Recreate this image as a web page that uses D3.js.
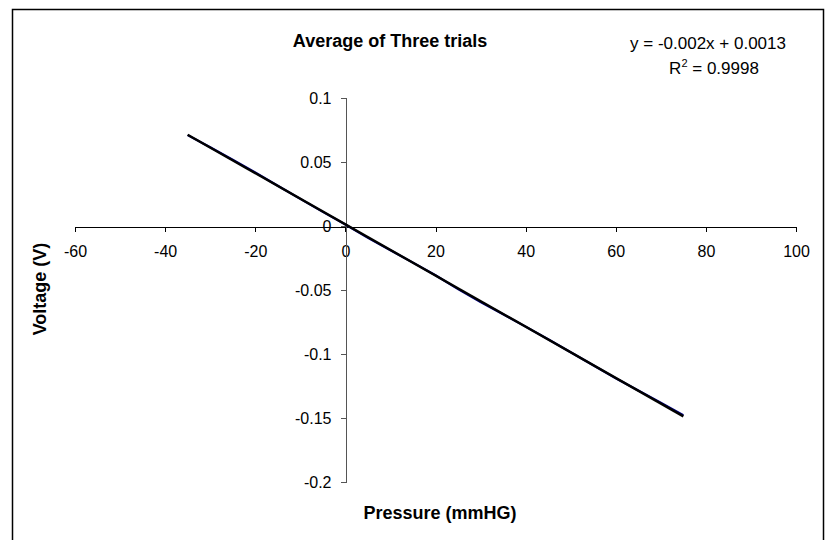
<!DOCTYPE html>
<html><head><meta charset="utf-8">
<script src="https://cdn.jsdelivr.net/npm/d3@7"></script>
<style>body{margin:0;background:#fff}svg{display:block}text{font-family:"Liberation Sans",Arial,sans-serif;fill:#000}</style>
</head><body>
<script>
const pressure = [-35,-30,-25,-20,-15,-10,-5,0,5,10,15,20,25,30,35,40,45,50,55,60,65,70,75];
const voltage = [0.0710,0.0615,0.0518,0.0418,0.0315,0.0212,0.0110,0.0012,-0.0093,-0.0190,-0.0286,-0.0385,-0.0493,-0.0594,-0.0690,-0.0786,-0.0885,-0.0986,-0.1088,-0.1190,-0.1285,-0.1380,-0.1478];
const trendSlope = -0.002, trendIntercept = 0.0013;
const trendRange = [-35, 75];
const xTicks = [-60,-40,-20,0,20,40,60,80,100];
const yTicks = [0.1,0.05,0,-0.05,-0.1,-0.15,-0.2];
const title = "Average of Three trials";
const eqText = "y = -0.002x + 0.0013";
const r2Value = "0.9998";

const W = 828, H = 540;
const svg = d3.select("body").append("svg").attr("width", W).attr("height", H);
svg.append("rect").attr("x", 12.5).attr("y", 9.5).attr("width", 811).attr("height", 700)
  .attr("fill", "#fff").attr("stroke", "#000").attr("stroke-width", 1.5);

const x = d3.scaleLinear().domain([-60, 100]).range([75, 796]);
const y = d3.scaleLinear().domain([-0.2, 0.1]).range([482, 98]);

const xAxis = d3.axisBottom(x).tickValues(xTicks).tickSize(5).tickFormat(d => d);
const gx = svg.append("g").attr("transform", `translate(0,${Math.round(y(0))+0.5})`).call(xAxis);
gx.select(".domain").attr("stroke", "#000").attr("shape-rendering", "crispEdges");
gx.selectAll(".tick line").attr("stroke", "#000").attr("shape-rendering", "crispEdges");
gx.selectAll(".tick text").attr("font-size", 16).attr("y", 15).attr("dy", "0.95em")
  .attr("font-family", "Liberation Sans, Arial, sans-serif");

const yAxis = d3.axisLeft(y).tickValues(yTicks).tickSize(5).tickFormat(d => d === 0 ? "0" : String(d));
const gy = svg.append("g").attr("transform", `translate(${Math.round(x(0))+0.5},0)`).call(yAxis);
gy.select(".domain").attr("stroke", "#555").attr("shape-rendering", "crispEdges");
gy.selectAll(".tick line").attr("stroke", "#555").attr("shape-rendering", "crispEdges");
gy.selectAll(".tick text").attr("font-size", 16).attr("x", -14)
  .attr("font-family", "Liberation Sans, Arial, sans-serif");

const line = d3.line().x(d => x(d[0])).y(d => y(d[1]));
svg.append("path").datum(pressure.map((p, i) => [p, voltage[i]]))
  .attr("d", line).attr("fill", "none").attr("stroke", "#000080").attr("stroke-width", 2.2);

svg.append("path").datum(trendRange.map(p => [p, trendSlope * p + trendIntercept]))
  .attr("d", line).attr("fill", "none").attr("stroke", "#000").attr("stroke-width", 2.4);

svg.append("text").attr("x", 390).attr("y", 47).attr("text-anchor", "middle")
  .attr("font-size", 18).attr("font-weight", "bold").text(title);

svg.append("text").attr("x", 708).attr("y", 49).attr("text-anchor", "middle")
  .attr("font-size", 17).text(eqText);
const r2 = svg.append("text").attr("x", 714).attr("y", 74).attr("text-anchor", "middle").attr("font-size", 17);
r2.append("tspan").text("R");
r2.append("tspan").attr("font-size", 11).attr("dy", -7).text("2");
r2.append("tspan").attr("dy", 7).text(" = " + r2Value);

svg.append("text").attr("x", 440).attr("y", 519).attr("text-anchor", "middle")
  .attr("font-size", 18).attr("font-weight", "bold").text("Pressure (mmHG)");
svg.append("text").attr("transform", "translate(46,289) rotate(-90)").attr("text-anchor", "middle")
  .attr("font-size", 18).attr("font-weight", "bold").text("Voltage (V)");
</script>
</body></html>
